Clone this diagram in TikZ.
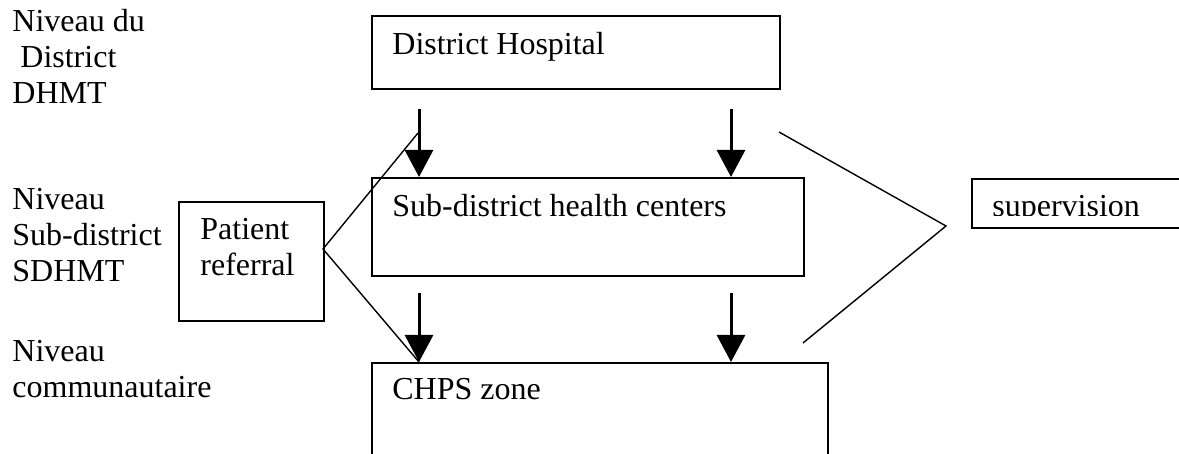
\documentclass[tikz,border=0pt]{standalone}
\usepackage{fontspec}
\setmainfont{Liberation Serif}
\usetikzlibrary{arrows.meta}
\begin{document}
\begin{tikzpicture}[x=0.5pt,y=-0.5pt,
  txt/.style={anchor=base west,inner sep=0pt,font=\fontsize{16}{18}\selectfont},
  box/.style={draw,line width=1pt,anchor=north west,inner sep=0pt},
  arr/.style={line width=1.5pt,-{Triangle[width=14pt,length=13.5pt]}},
  thin/.style={line width=0.7pt}]
\useasboundingbox (0,0) rectangle (1179,454);
% left level labels
\node[txt] (l1) at (12,32) {\vtop{\hbox{Niveau du}\hbox{\ District}\hbox{DHMT}}};
\node[txt] (l2) at (12,210) {\vtop{\hbox{Niveau}\hbox{Sub-district}\hbox{SDHMT}}};
\node[txt] (l3) at (12,362) {\vtop{\hbox{Niveau}\hbox{communautaire}}};
% boxes
\node[box,minimum width=204pt,minimum height=36.5pt] (dh) at (371,15) {};
\node[box,minimum width=216pt,minimum height=49pt] (sub) at (371,177) {};
\node[box,minimum width=228pt,minimum height=70pt] (chps) at (371,362) {};
\node[box,minimum width=72.5pt,minimum height=59.5pt] (pr) at (178,201) {};
\node[box,minimum width=110pt,minimum height=24.5pt] (sup) at (971,178) {};
% box texts
\node[txt] (dht) at (392,55) {District Hospital};
\node[txt] (subt) at (392,217) {Sub-district health centers};
\node[txt] (chpst) at (392,400) {CHPS zone};
\node[txt] (prt) at (200,240) {\vtop{\hbox{Patient}\hbox{referral}}};
\begin{scope}
\clip (960,170) rectangle (1179,215.5);
\node[txt] (supt) at (992,217) {supervision};
\end{scope}
% arrows
\coordinate (a1) at (419,109);
\coordinate (a2) at (731,109);
\coordinate (b1) at (419,293);
\coordinate (b2) at (731,293);
\draw[arr] (a1) -- (a1 |- sub.north);
\draw[arr] (a2) -- (a2 |- sub.north);
\draw[arr] (b1) -- (b1 |- chps.north);
\draw[arr] (b2) -- (b2 |- chps.north);
% patient referral lines
\coordinate (prv) at (323,249);
\coordinate (pru) at (418,133);
\draw[thin] (pru) -- (prv) -- (b1 |- chps.north);
% supervision lines
\coordinate (su) at (779,132);
\coordinate (sv) at (946,226);
\coordinate (sd) at (803,343);
\draw[thin] (su) -- (sv) -- (sd);
\end{tikzpicture}
\end{document}
